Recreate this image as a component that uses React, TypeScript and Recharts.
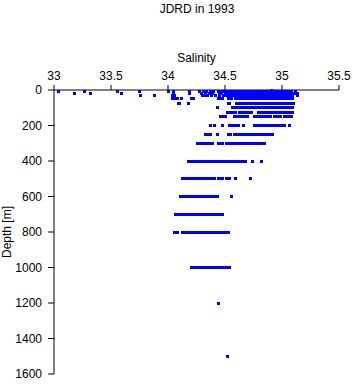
import React from 'react';
import { ScatterChart, Scatter, XAxis, YAxis } from 'recharts';

// salinity ticks on the top axis, depth ticks on the left axis
const salTicks = [33, 33.5, 34, 34.5, 35, 35.5];
const depthTicks = [0, 200, 400, 600, 800, 1000, 1200, 1400, 1600];

// salinity readings per standard depth (m)
const sal0 = [34.91];
const sal10 = [33.04, 33.27, 33.56, 33.75, 34.0, 34.05, 34.19, 34.28, 34.31, 34.34, 34.37, 34.4, 34.44, 34.46, 34.48,
  34.5, 34.52, 34.54, 34.56, 34.58, 34.6, 34.62, 34.64, 34.66, 34.68, 34.7, 34.72, 34.74, 34.76, 34.78, 34.8, 34.82,
  34.84, 34.86, 34.88, 34.9, 34.92, 34.94, 34.96, 34.98, 35.0, 35.02, 35.04, 35.06, 35.08, 35.12];
const sal20 = [33.18, 33.32, 33.59, 34.05, 34.19, 34.29, 34.33, 34.36, 34.39, 34.45, 34.47, 34.5, 34.52, 34.54, 34.56,
  34.58, 34.6, 34.62, 34.64, 34.66, 34.68, 34.7, 34.72, 34.74, 34.76, 34.78, 34.8, 34.82, 34.84, 34.86, 34.88, 34.9,
  34.92, 34.94, 34.96, 34.98, 35.0, 35.02, 35.04, 35.06, 35.08, 35.11, 35.14];
const sal30 = [33.76, 33.88, 34.04, 34.06, 34.3, 34.32, 34.35, 34.38, 34.42, 34.45, 34.49, 34.51, 34.53, 34.55, 34.57,
  34.59, 34.61, 34.63, 34.65, 34.67, 34.69, 34.71, 34.73, 34.75, 34.77, 34.79, 34.81, 34.83, 34.85, 34.87, 34.89, 34.91,
  34.93, 34.95, 34.97, 34.99, 35.01, 35.03, 35.05, 35.07, 35.09, 35.14];
const sal50 = [34.04, 34.06, 34.08, 34.12, 34.21, 34.22, 34.44, 34.46, 34.48, 34.53, 34.56, 34.59, 34.61, 34.63, 34.65,
  34.67, 34.69, 34.71, 34.73, 34.75, 34.77, 34.79, 34.81, 34.83, 34.85, 34.87, 34.89, 34.91, 34.93, 34.95, 34.97, 34.99,
  35.01, 35.03, 35.05, 35.07, 35.09];
const sal75 = [34.09, 34.1, 34.18, 34.53, 34.54, 34.6, 34.62, 34.64, 34.66, 34.68, 34.7, 34.72, 34.74, 34.76, 34.78,
  34.8, 34.82, 34.84, 34.86, 34.88, 34.9, 34.92, 34.94, 34.96, 34.98, 35.0, 35.02, 35.04, 35.06, 35.08, 35.1];
const sal100 = [34.43, 34.57, 34.59, 34.61, 34.63, 34.65, 34.67, 34.69, 34.71, 34.73, 34.75, 34.77, 34.79, 34.81,
  34.83, 34.85, 34.87, 34.89, 34.91, 34.93, 34.95, 34.97, 34.99, 35.01, 35.03, 35.05, 35.07, 35.09];
const sal125 = [34.52, 34.55, 34.57, 34.59, 34.63, 34.65, 34.67, 34.69, 34.71, 34.73, 34.79, 34.81, 34.83, 34.85,
  34.87, 34.89, 34.91, 34.93, 34.95, 34.97, 34.99, 35.01, 35.03, 35.05, 35.07, 35.09];
const sal150 = [34.46, 34.48, 34.5, 34.58, 34.6, 34.62, 34.64, 34.66, 34.68, 34.7, 34.76, 34.78, 34.8, 34.82, 34.84,
  34.86, 34.88, 34.9, 34.93, 34.96, 34.99, 35.02, 35.04, 35.06, 35.08];
const sal200 = [34.37, 34.41, 34.48, 34.54, 34.56, 34.58, 34.6, 34.62, 34.66, 34.76, 34.78, 34.8, 34.82, 34.84, 34.86,
  34.88, 34.9, 34.92, 34.94, 34.96, 34.98, 35.0, 35.02, 35.07];
const sal250 = [34.33, 34.35, 34.37, 34.43, 34.53, 34.55, 34.58, 34.6, 34.63, 34.65, 34.68, 34.7, 34.72, 34.74, 34.76,
  34.78, 34.8, 34.82, 34.84, 34.86, 34.88, 34.9, 34.92];
const sal300 = [34.26, 34.28, 34.3, 34.32, 34.35, 34.37, 34.39, 34.44, 34.46, 34.48, 34.51, 34.53, 34.55, 34.57, 34.59,
  34.61, 34.63, 34.65, 34.67, 34.69, 34.71, 34.73, 34.75, 34.77, 34.79, 34.81, 34.83, 34.85];
const sal400 = [34.18, 34.2, 34.22, 34.24, 34.26, 34.28, 34.3, 34.32, 34.34, 34.36, 34.38, 34.4, 34.42, 34.44, 34.46,
  34.48, 34.5, 34.52, 34.54, 34.56, 34.58, 34.6, 34.62, 34.64, 34.66, 34.68, 34.74, 34.82];
const sal500 = [34.13, 34.15, 34.17, 34.19, 34.21, 34.23, 34.25, 34.27, 34.29, 34.31, 34.33, 34.35, 34.37, 34.39,
  34.41, 34.44, 34.46, 34.48, 34.51, 34.54, 34.59, 34.72];
const sal600 = [34.11, 34.13, 34.15, 34.17, 34.19, 34.21, 34.23, 34.25, 34.27, 34.29, 34.31, 34.33, 34.35, 34.37,
  34.39, 34.41, 34.43, 34.56];
const sal700 = [34.07, 34.09, 34.11, 34.13, 34.15, 34.17, 34.19, 34.21, 34.23, 34.25, 34.27, 34.29, 34.31, 34.33,
  34.35, 34.37, 34.39, 34.42, 34.44, 34.46, 34.48];
const sal800 = [34.06, 34.08, 34.13, 34.15, 34.17, 34.19, 34.21, 34.23, 34.25, 34.27, 34.29, 34.31, 34.33, 34.35,
  34.37, 34.39, 34.41, 34.43, 34.45, 34.47, 34.49, 34.51, 34.53];
const sal1000 = [34.21, 34.23, 34.25, 34.27, 34.29, 34.31, 34.33, 34.35, 34.37, 34.39, 34.41, 34.43, 34.45, 34.47,
  34.49, 34.51, 34.53, 34.54];
const sal1200 = [34.44];
const sal1500 = [34.52];

const profiles: [number, number[]][] = [
  [0, sal0], [10, sal10], [20, sal20], [30, sal30], [50, sal50], [75, sal75], [100, sal100], [125, sal125],
  [150, sal150], [200, sal200], [250, sal250], [300, sal300], [400, sal400], [500, sal500], [600, sal600],
  [700, sal700], [800, sal800], [1000, sal1000], [1200, sal1200], [1500, sal1500],
];

const data = profiles.flatMap(([depth, sals]) => sals.map((sal) => ({ sal, depth })));

const Dot = (props: any) => (
  <rect x={props.cx - 1.5} y={props.cy - 1.5} width={3} height={3} fill="#0000ff" shapeRendering="crispEdges" />
);

export default function App() {
  return (
    <div style={{ position: 'absolute', left: 0, top: 0, width: 353, height: 384, background: '#fff',
      fontFamily: '"Liberation Sans", Arial, sans-serif' }}>
      <div style={{ position: 'absolute', left: 97, top: 2, width: 200, textAlign: 'center', fontSize: 12,
        lineHeight: '14px', color: '#000' }}>
        JDRD in 1993
      </div>
      <ScatterChart width={353} height={384} margin={{ top: 60, right: 14, bottom: 10, left: 0 }}>
        <XAxis
          type="number"
          dataKey="sal"
          orientation="top"
          domain={[33, 35.5]}
          ticks={salTicks}
          height={30}
          tickSize={5}
          tickMargin={5}
          stroke="#000"
          tick={{ fill: '#000', fontSize: 12 }}
          label={{ value: 'Salinity', position: 'top', offset: -2, fill: '#000', fontSize: 12 }}
        />
        <YAxis
          type="number"
          dataKey="depth"
          reversed
          domain={[0, 1600]}
          ticks={depthTicks}
          width={54}
          tickSize={6}
          tickMargin={6}
          stroke="#000"
          tick={{ fill: '#000', fontSize: 12 }}
          label={{ value: 'Depth [m]', angle: -90, position: 'insideLeft', offset: 7, fill: '#000', fontSize: 12,
            style: { textAnchor: 'middle' } }}
        />
        <Scatter data={data} shape={Dot} isAnimationActive={false} />
      </ScatterChart>
    </div>
  );
}
